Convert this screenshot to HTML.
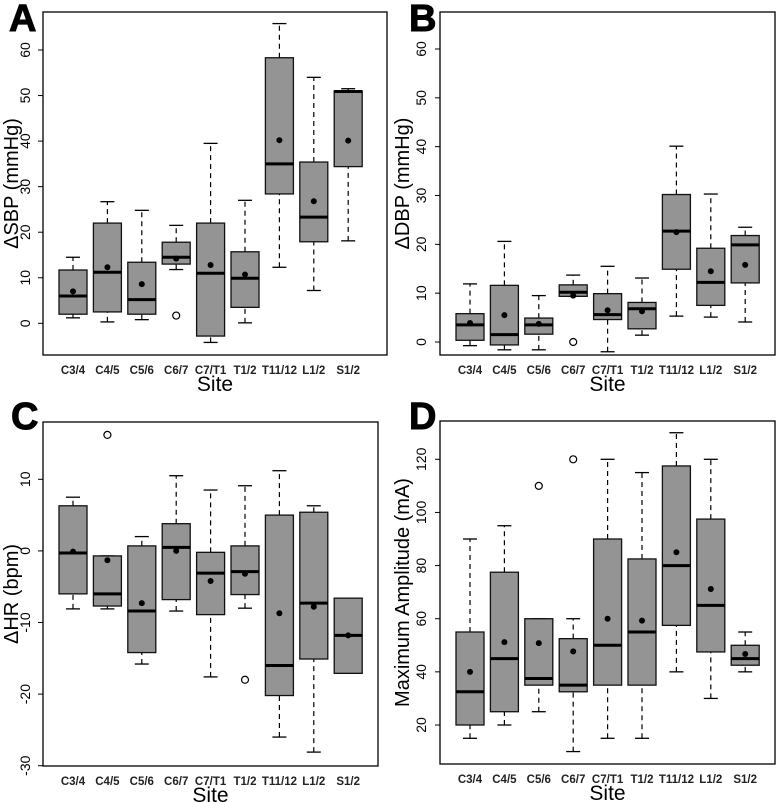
<!DOCTYPE html>
<html><head><meta charset="utf-8"><style>
body{margin:0;background:#fff;}
svg{display:block;font-family:"Liberation Sans",sans-serif;}
</style></head><body>
<svg id="fig" width="776" height="802" viewBox="0 0 776 802"></svg>
<script>
const categories = ["C3/4","C4/5","C5/6","C6/7","C7/T1","T1/2","T11/12","L1/2","S1/2"];
// [lowWhisker, q1, median, q3, highWhisker, mean]
const sbpStats = [[1.2,2,6,11.7,14.5,7],[0.3,2.5,11.2,22,26.7,12.3],[0.8,2,5.2,13.4,24.8,8.6],[11.8,13,14.5,17.8,21.5,14.2],[-4.2,-2.8,11,22,39.5,12.8],[0.1,3.5,9.9,15.7,27,10.7],[12.3,28.4,35,58.3,65.8,40.2],[7.2,17.9,23.3,35.4,54,26.8],[18.1,34.4,50.9,51,51.5,40.1]];
const sbpOutliers = [[],[],[],[1.7],[],[],[],[],[]];
const dbpStats = [[-0.75,0.35,3.5,5.8,11.9,3.9],[-1.6,-0.6,1.5,11.6,20.6,5.5],[-1.6,1.6,3.5,4.9,9.5,3.7],[9.35,9.35,10.2,11.7,13.7,9.5],[-2,4.6,5.6,9.9,15.5,6.5],[1.4,2.7,6.8,8.1,13.1,6.3],[5.3,14.9,22.7,30.2,40.1,22.5],[5.1,7.5,12.2,19.2,30.3,14.5],[4.1,12.1,19.9,21.8,23.5,15.8]];
const dbpOutliers = [[],[],[],[0],[],[],[],[],[]];
const hrStats = [[-8.1,-6,-0.3,6.3,7.5,-0.1],[-8.1,-7.7,-6,-0.7,-0.7,-1.3],[-15.8,-14.2,-8.4,0.7,2,-7.3],[-8.4,-6.8,0.5,3.8,10.5,0],[-17.6,-8.9,-3.1,-0.2,8.5,-4.2],[-8,-6.1,-2.9,0.7,9.1,-3.2],[-26,-20.2,-16,5,11.2,-8.7],[-28.1,-15.1,-7.3,5.4,6.3,-7.8],[-17.1,-17.1,-11.8,-6.6,-6.6,-11.8]];
const hrOutliers = [[],[16.2],[],[],[],[-18],[],[],[]];
const ampStats = [[15,20,32.5,55,90,40],[20,25,45,77.5,95,51.2],[25,35,37.5,60,60,50.8],[10,32.5,35,52.5,60,47.7],[15,35,50,90,120,60],[15,35,55,82.5,115,59.3],[40,57.5,80,117.5,130,85],[30,47.5,65,97.5,120,71.2],[40,42.5,45,50,55,46.7]];
const ampOutliers = [[],[],[110],[120],[],[],[],[],[]];
const sbpTicks = [0,10,20,30,40,50,60];
const dbpTicks = [0,10,20,30,40,50,60];
const hrTicks = [-30,-20,-10,0,10];
const ampTicks = [20,40,60,80,100,120];

const NS="http://www.w3.org/2000/svg";
const svg=document.getElementById('fig');
function mk(tag,attrs,parent,text){const e=document.createElementNS(NS,tag);for(const k in attrs)e.setAttribute(k,attrs[k]);if(text!==undefined)e.textContent=text;(parent||svg).appendChild(e);return e;}

function panel(o){
  const g=mk('g',{});
  
  
  const y=v=>o.y0-(v-o.ymin)*(o.y0-o.y1)/(o.ymax-o.ymin);
  const x=i=>o.cx0+i*o.step;
  const fr=mk('rect',{x:o.L,y:o.T,width:o.R-o.L,height:o.B-o.T,fill:'none',stroke:'#000','stroke-width':1.3},g);
  
  
  const lt=mk('text',{x:o.lx,y:o.ly,'font-size':38,'font-weight':'bold',stroke:'#000','stroke-width':1},g,o.letter);
  
  
  o.ticks.forEach(t=>{
    const yy=y(t);
    const tk=mk('line',{x1:o.L-5,x2:o.L,y1:yy,y2:yy,stroke:'#000','stroke-width':1},g);
    
    
    const tl=mk('text',{x:o.tx,y:yy,'font-size':14,'text-anchor':'middle',transform:`rotate(-90 ${o.tx} ${yy})`},g,String(t));
    
    
  });
  const yt=mk('text',{x:o.yx,y:(o.T+o.B)/2,'font-size':20,'text-anchor':'middle',transform:`rotate(-90 ${o.yx} ${(o.T+o.B)/2})`},g,o.ytitle);
  
  
  const xt=mk('text',{x:(o.L+o.R)/2,y:o.B+36,'font-size':21,'text-anchor':'middle'},g,'Site');
  
  
  const hw=14;
  categories.forEach((c,i)=>{
    const s=o.stats[i], cx=x(i);
    const cl=mk('text',{x:cx,y:o.B+19,'font-size':11.5,'font-weight':'bold','text-anchor':'middle',fill:'#222'},g,c);
    
    
    const bg=mk('g',{},g);
    
    
    const dash={stroke:'#000','stroke-width':1.2,'stroke-dasharray':'5,4'};
    mk('line',Object.assign({x1:cx,x2:cx,y1:y(s[0]),y2:y(s[1])},dash),bg);
    mk('line',Object.assign({x1:cx,x2:cx,y1:y(s[3]),y2:y(s[4])},dash),bg);
    mk('line',{x1:cx-7,x2:cx+7,y1:y(s[0]),y2:y(s[0]),stroke:'#000','stroke-width':1.3},bg);
    mk('line',{x1:cx-7,x2:cx+7,y1:y(s[4]),y2:y(s[4]),stroke:'#000','stroke-width':1.3},bg);
    mk('rect',{x:cx-hw,y:y(s[3]),width:2*hw,height:Math.max(0.5,y(s[1])-y(s[3])),fill:'#949494',stroke:'#111','stroke-width':1.3},bg);
    mk('line',{x1:cx-hw,x2:cx+hw,y1:y(s[2]),y2:y(s[2]),stroke:'#000','stroke-width':3},bg);
    mk('circle',{cx:cx,cy:y(s[5]),r:3,fill:'#000'},bg);
    o.outliers[i].forEach(v=>{
      const oc=mk('circle',{cx:cx,cy:y(v),r:3.5,fill:'#fff',stroke:'#000','stroke-width':1.2},bg);
      
      
    });
  });
}
panel({letter:'A',lx:9,ly:31,L:43,R:387,T:12,B:355,y0:323.3,y1:50,ymin:0,ymax:60,cx0:73,step:34.4,tx:30,yx:18,ticks:sbpTicks,ytitle:'\u0394SBP (mmHg)',stats:sbpStats,outliers:sbpOutliers});
panel({letter:'B',lx:409,ly:31,L:440,R:775,T:12,B:355,y0:342,y1:49,ymin:0,ymax:60,cx0:470,step:34.4,tx:426,yx:409,ticks:dbpTicks,ytitle:'\u0394DBP (mmHg)',stats:dbpStats,outliers:dbpOutliers});
panel({letter:'C',lx:11,ly:429,L:43,R:378,T:422,B:766,y0:765.7,y1:479.3,ymin:-30,ymax:10,cx0:73,step:34.4,tx:30,yx:18,ticks:hrTicks,ytitle:'\u0394HR (bpm)',stats:hrStats,outliers:hrOutliers});
panel({letter:'D',lx:409,ly:429,L:440,R:775,T:421,B:764,y0:725,y1:459.3,ymin:20,ymax:120,cx0:470,step:34.4,tx:426,yx:409,ticks:ampTicks,ytitle:'Maximum Amplitude (mA)',stats:ampStats,outliers:ampOutliers});
</script>
</body></html>
